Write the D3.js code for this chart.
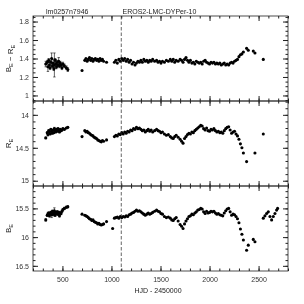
<!DOCTYPE html>
<html>
<head>
<meta charset="utf-8">
<script src="https://cdn.jsdelivr.net/npm/d3@7"></script>
<style>
  body { margin: 0; background: #fff; }
  svg { display: block; font-family: "Liberation Sans", Arial, sans-serif; will-change: transform; }
  .tick text { font-size: 7px; fill: #333; }
</style>
</head>
<body>
<svg id="lc" width="304" height="304"></svg>
<script>
// observation dates, HJD - 2450000
const hjd = [
  330,345,352,360,368,375,382,390,398,405,412,418,425,432,440,447,455,462,470,478,486,495,505,520,540,555,
  700,728,740,752,764,776,788,800,812,824,836,848,860,872,884,896,908,920,950,1012,
  1030,1045,1060,1075,1090,1105,1120,1135,1150,1165,1180,1195,1210,1225,1240,1255,1270,1285,1300,1315,1330,1345,1360,1375,1390,1405,
  1420,1440,1460,1475,1490,1505,1520,1540,1560,1580,1600,1615,1630,1645,1660,1680,1700,
  1715,1730,1745,1760,1775,1790,1805,1820,1835,1850,1865,1880,1895,1910,1925,1940,1955,1970,1985,2000,
  2015,2030,2045,2060,2075,2090,2105,2120,2135,2150,2165,2180,2195,2210,2225,2240,2255,2270,2285,2300,2315,2330,2345,
  2378,2395,2446,2463,
  2548,2565,2582,2599,2616,2633,2650,2667,2684,2694
];
// colour index B_E - R_E
const colour = [
  1.34,1.36,1.31,1.38,1.33,1.30,1.36,1.40,1.32,1.35,1.29,1.33,1.38,1.34,1.31,1.36,1.33,1.37,1.32,1.35,1.33,1.30,1.34,1.32,1.30,1.28,
  1.27,1.38,1.40,1.37,1.39,1.41,1.38,1.40,1.37,1.39,1.40,1.38,1.39,1.37,1.40,1.38,1.39,1.37,1.36,null,
  1.36,1.38,1.35,1.39,1.37,1.40,1.38,1.40,1.37,1.39,1.36,1.38,1.34,1.36,1.33,1.35,1.37,1.36,1.38,1.36,1.39,1.37,1.38,1.36,1.38,1.37,
  1.39,1.37,1.38,1.36,1.37,1.35,1.37,1.36,1.38,1.37,1.39,1.37,1.39,1.36,1.38,1.37,1.39,
  1.38,1.36,1.39,1.41,1.38,1.36,1.38,1.35,1.36,1.34,1.37,1.36,1.35,1.36,1.34,1.37,1.38,1.36,1.35,1.34,
  1.36,1.35,1.36,1.34,1.35,1.34,1.35,1.33,1.34,1.35,1.33,1.34,1.33,1.35,1.36,1.35,1.37,1.38,1.39,1.42,1.44,1.45,1.47,
  1.51,1.49,1.48,1.46,
  1.39,null,null,null,null,null,null,null,null,null
];
const magR = [
  14.35,14.27,14.30,14.24,14.26,14.29,14.22,14.25,14.28,14.23,14.27,14.21,14.24,14.26,14.22,14.25,14.21,14.23,14.26,14.22,14.24,14.23,14.21,14.22,14.20,14.19,
  14.33,14.24,14.26,14.25,14.27,14.28,14.30,14.31,14.32,14.34,14.35,14.36,14.38,14.39,14.40,14.41,14.39,14.40,14.38,null,
  14.33,14.31,14.32,14.29,14.30,14.27,14.29,14.26,14.28,14.25,14.26,14.23,14.24,14.21,14.22,14.19,14.21,14.20,14.22,14.24,14.23,14.26,14.24,14.22,14.25,14.23,
  14.26,14.24,14.22,14.24,14.25,14.27,14.26,14.29,14.31,14.30,14.33,14.35,14.36,14.33,14.31,14.34,14.37,
  14.40,14.43,14.36,14.33,14.30,14.28,14.29,14.26,14.27,14.24,14.22,14.20,14.18,14.16,14.17,14.21,14.23,14.20,14.24,14.25,
  14.22,14.23,14.21,14.24,14.26,14.25,14.27,14.26,14.28,14.24,14.21,14.19,14.18,14.23,14.28,14.26,14.25,14.29,14.32,14.37,14.44,14.50,14.58,
  14.71,null,null,14.58,
  14.29,null,null,null,null,null,null,null,null,null
];
const magB = [
  15.70,15.62,15.60,15.58,15.63,15.59,15.57,15.61,15.55,15.60,15.58,15.54,15.62,15.57,15.59,15.56,15.60,15.57,15.63,15.58,15.59,15.55,15.52,15.50,15.48,15.47,
  15.60,15.62,15.63,15.64,15.66,15.68,15.69,15.71,15.70,15.73,15.74,15.75,15.77,15.76,15.78,15.79,15.78,15.77,15.73,15.85,
  15.67,15.66,15.65,15.67,15.64,15.66,15.64,15.65,15.63,15.64,15.61,15.60,15.58,15.57,15.55,15.53,15.55,15.54,15.56,15.58,15.60,15.62,15.60,15.58,15.60,15.59,
  15.57,15.55,15.53,15.55,15.56,15.59,15.60,15.64,15.66,15.65,15.67,15.70,15.71,15.68,15.66,15.72,15.78,
  15.81,15.85,15.77,15.72,15.68,15.64,15.63,15.60,15.61,15.58,15.56,15.53,15.52,15.50,15.51,15.56,15.59,15.55,15.58,15.57,
  15.55,15.56,15.55,15.58,15.60,15.59,15.61,15.62,15.63,15.58,15.54,15.51,15.50,15.56,15.62,15.60,15.61,15.64,15.68,15.75,15.86,15.95,16.05,
  16.23,16.14,16.04,16.08,
  15.67,15.63,15.59,15.56,15.64,15.70,15.64,15.59,15.53,15.50
];
// error bars, only for the first season (first 26 points)
const errColour = [.03,.02,.05,.02,.04,.02,.02,.06,.02,.04,.02,.13,.02,.05,.02,.02,.02,.04,.02,.02,.02,.02,.02,.02,.02,.02];
const errR = [.01,.01,.02,.01,.01,.01,.01,.03,.01,.01,.01,.02,.01,.01,.01,.01,.01,.01,.01,.01,.01,.01,.01,.01,.01,.01];
const errB = [.02,.02,.03,.02,.02,.02,.02,.05,.02,.03,.02,.05,.02,.02,.02,.02,.02,.02,.02,.02,.02,.02,.02,.02,.02,.02];

const xTicks = [500, 1000, 1500, 2000, 2500];
const colourTicks = [1, 1.2, 1.4, 1.6, 1.8];
const rTicks = [14, 14.5, 15];
const bTicks = [15.5, 16, 16.5];
const markerHjd = 1100;

const svg = d3.select('#lc');
const L = 33, R = 288, T = 16, PH = 85;

const x = d3.scaleLinear().domain([200, 2800]).range([L, R]);

const panels = [
  {vals: colour, err: errColour, dom: [0.94, 1.86], flip: false, major: colourTicks, step: 0.05, lab: ['B', ' \u2212 R']},
  {vals: magR, err: errR, dom: [13.79, 15.08], flip: true, major: rTicks, step: 0.1, lab: ['R']},
  {vals: magB, err: errB, dom: [15.11, 16.59], flip: true, major: bTicks, step: 0.1, lab: ['B']}
];

const minorTicks = (dom, step) => {
  const lo = Math.min(dom[0], dom[1]), hi = Math.max(dom[0], dom[1]);
  return d3.range(Math.ceil(lo / step - 1e-6), Math.floor(hi / step + 1e-6) + 1).map(k => +(k * step).toFixed(3));
};
const xMinor = minorTicks(x.domain(), 100);

panels.forEach((p, i) => {
  const top = T + PH * i, bot = top + PH;
  const y = d3.scaleLinear().domain(p.dom).range(p.flip ? [top, bot] : [bot, top]);
  const g = svg.append('g').attr('color', '#222');
  const yMinor = minorTicks(p.dom, p.step);

  const strip = s => s.select('.domain').remove();

  g.append('g').attr('transform', `translate(${L},0)`)
    .call(d3.axisLeft(y).tickValues(p.major).tickSize(-5).tickPadding(4).tickFormat(d3.format('')))
    .call(strip);
  g.append('g').attr('transform', `translate(${L},0)`)
    .call(d3.axisLeft(y).tickValues(yMinor).tickSize(-2.5).tickFormat(''))
    .call(strip);
  g.append('g').attr('transform', `translate(${R},0)`)
    .call(d3.axisRight(y).tickValues(p.major).tickSize(-5).tickFormat(''))
    .call(strip);
  g.append('g').attr('transform', `translate(${R},0)`)
    .call(d3.axisRight(y).tickValues(yMinor).tickSize(-2.5).tickFormat(''))
    .call(strip);

  g.append('g').attr('transform', `translate(0,${top})`)
    .call(d3.axisTop(x).tickValues(xTicks).tickSize(-5).tickFormat(''))
    .call(strip);
  g.append('g').attr('transform', `translate(0,${top})`)
    .call(d3.axisTop(x).tickValues(xMinor).tickSize(-2.5).tickFormat(''))
    .call(strip);
  g.append('g').attr('transform', `translate(0,${bot})`)
    .call(d3.axisBottom(x).tickValues(xTicks).tickSize(-5).tickPadding(6)
      .tickFormat(i === 2 ? d3.format('') : ''))
    .call(strip);
  g.append('g').attr('transform', `translate(0,${bot})`)
    .call(d3.axisBottom(x).tickValues(xMinor).tickSize(-2.5).tickFormat(''))
    .call(strip);

  g.append('rect').attr('x', L).attr('y', top).attr('width', R - L).attr('height', PH)
    .attr('fill', 'none').attr('stroke', '#222').attr('stroke-width', 0.8);

  // y label with subscripts
  const t = svg.append('text')
    .attr('transform', `translate(11,${(top + bot) / 2}) rotate(-90)`)
    .attr('text-anchor', 'middle').attr('font-size', 8).attr('fill', '#222');
  p.lab.forEach(s => {
    t.append('tspan').text(s);
    t.append('tspan').attr('font-size', 5.5).attr('dy', 2).text('E');
    t.append('tspan').attr('dy', -2).text('');
  });

  const pts = hjd.map((h, k) => ({h, v: p.vals[k], e: p.err[k] || 0})).filter(d => d.v != null);

  const eb = svg.append('g').attr('stroke', '#000').attr('stroke-width', 0.6);
  pts.filter(d => d.e > 0).forEach(d => {
    const xx = x(d.h), y0 = y(d.v - d.e), y1 = y(d.v + d.e);
    eb.append('line').attr('x1', xx).attr('x2', xx).attr('y1', y0).attr('y2', y1);
    eb.append('line').attr('x1', xx - 1.2).attr('x2', xx + 1.2).attr('y1', y0).attr('y2', y0);
    eb.append('line').attr('x1', xx - 1.2).attr('x2', xx + 1.2).attr('y1', y1).attr('y2', y1);
  });

  svg.append('g').selectAll('circle').data(pts).join('circle')
    .attr('cx', d => x(d.h)).attr('cy', d => y(d.v)).attr('r', 1.55).attr('fill', '#000');
});

// dashed marker line through all panels
svg.append('line')
  .attr('x1', x(markerHjd)).attr('x2', x(markerHjd))
  .attr('y1', T).attr('y2', T + PH * 3)
  .attr('stroke', '#222').attr('stroke-width', 0.7).attr('stroke-dasharray', '3.5,2');

svg.append('text').attr('x', 46).attr('y', 14).attr('font-size', 7).attr('fill', '#222').text('lm0257n7946');
svg.append('text').attr('x', 122.5).attr('y', 14).attr('font-size', 7).attr('fill', '#222').text('EROS2-LMC-DYPer-10');
svg.append('text').attr('x', 158).attr('y', 293).attr('text-anchor', 'middle')
  .attr('font-size', 7).attr('fill', '#222').text('HJD - 2450000');
</script>
</body>
</html>
